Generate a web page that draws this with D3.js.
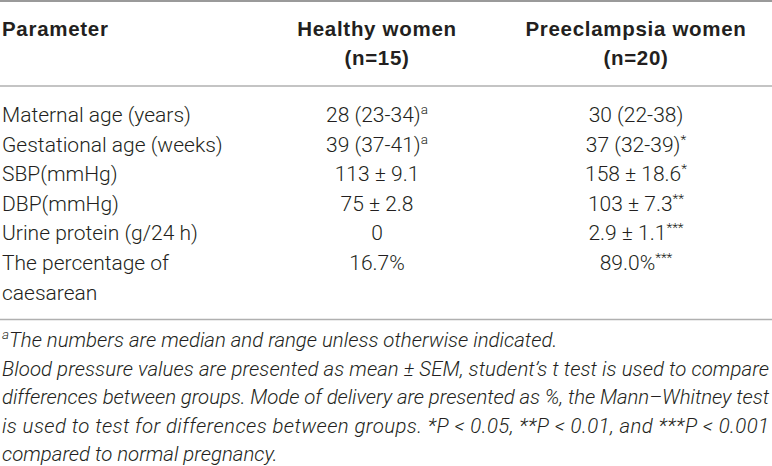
<!DOCTYPE html>
<html>
<head>
<meta charset="utf-8">
<script src="https://cdn.jsdelivr.net/npm/d3@7"></script>
<style>
  html, body { margin: 0; padding: 0; background: #fff; }
  svg { display: block; }
  text { font-family: Roboto, "Liberation Sans", sans-serif; fill: #231f20; }
  .hdr { font-family: "Liberation Sans", Arial, sans-serif; font-weight: 700; letter-spacing: 0.7px; }
</style>
</head>
<body>
<svg id="chart" width="772" height="466"></svg>
<script>
// ---- data ----
const headerCols = ["Parameter", "Healthy women", "Preeclampsia women"];
const headerSub = ["", "(n=15)", "(n=20)"];
const parameters = [
  ["Maternal age (years)"],
  ["Gestational age (weeks)"],
  ["SBP(mmHg)"],
  ["DBP(mmHg)"],
  ["Urine protein (g/24 h)"],
  ["The percentage of", "caesarean"]
];
const healthyValues = ["28 (23-34)", "39 (37-41)", "113 ± 9.1", "75 ± 2.8", "0", "16.7%"];
const healthySup = ["a", "a", "", "", "", ""];
const preValues = ["30 (22-38)", "37 (32-39)", "158 ± 18.6", "103 ± 7.3", "2.9 ± 1.1", "89.0%"];
const preSup = ["", "*", "*", "**", "***", "***"];
const footnoteLines = [
  "The numbers are median and range unless otherwise indicated.",
  "Blood pressure values are presented as mean ± SEM, student’s t test is used to compare",
  "differences between groups. Mode of delivery are presented as %, the Mann–Whitney test",
  "is used to test for differences between groups. *P < 0.05, **P < 0.01, and ***P < 0.001",
  "compared to normal pregnancy."
];
const footnoteSup = "a";

// ---- layout ----
const W = 772;
const svg = d3.select("#chart");
const colX = d3.scaleOrdinal().domain([0, 1, 2]).range([2, 377, 636]);
const colAnchor = ["start", "middle", "middle"];
const rowLine = d3.scaleLinear().domain([0, 1]).range([122, 151.6]);
const footLine = d3.scaleLinear().domain([0, 1]).range([347, 375.6]);
const FS = 21;

// rules
svg.append("line").attr("x1", 0).attr("x2", W).attr("y1", 1).attr("y2", 1)
  .attr("stroke", "#9a9a9a").attr("stroke-width", 2);
svg.append("line").attr("x1", 0).attr("x2", W).attr("y1", 86).attr("y2", 86)
  .attr("stroke", "#b0b0b0").attr("stroke-width", 1.5);
svg.append("line").attr("x1", 0).attr("x2", W).attr("y1", 319.5).attr("y2", 319.5)
  .attr("stroke", "#b0b0b0").attr("stroke-width", 1.5);

// header
const hdr = svg.append("g");
headerCols.forEach((h, i) => {
  hdr.append("text").attr("class", "hdr").attr("x", colX(i)).attr("y", 36).attr("text-anchor", colAnchor[i])
    .attr("font-size", 20.5).text(h);
  if (headerSub[i]) {
    hdr.append("text").attr("class", "hdr").attr("x", colX(i)).attr("y", 65).attr("text-anchor", colAnchor[i])
      .attr("font-size", 20.5).text(headerSub[i]);
  }
});

// body
let line = 0;
const body = svg.append("g");
parameters.forEach((p, r) => {
  p.forEach((t, k) => {
    body.append("text").attr("x", colX(0)).attr("y", rowLine(line + k))
      .attr("font-size", FS).attr("font-weight", 300).text(t);
  });
  [[healthyValues, healthySup, 1], [preValues, preSup, 2]].forEach(([vals, sups, c]) => {
    const tx = body.append("text").attr("x", colX(c)).attr("y", rowLine(line))
      .attr("text-anchor", "middle").attr("font-size", FS).attr("font-weight", 300);
    tx.append("tspan").text(vals[r]);
    if (sups[r]) {
      tx.append("tspan").attr("font-size", 13.5).attr("dy", -8).text(sups[r]);
    }
  });
  line += p.length;
});

// footnote
const foot = svg.append("g");
footnoteLines.forEach((t, i) => {
  const tx = foot.append("text").attr("x", 2).attr("y", footLine(i))
    .attr("font-size", 20.4).attr("font-weight", 300).attr("font-style", "italic");
  if (i === 0) {
    tx.append("tspan").attr("font-size", 13.5).attr("dy", -8).text(footnoteSup);
    tx.append("tspan").attr("dy", 8).text(t);
  } else {
    tx.text(t);
    if (i < footnoteLines.length - 1) {
      tx.attr("textLength", 767).attr("lengthAdjust", "spacing");
    }
  }
});
</script>
</body>
</html>
